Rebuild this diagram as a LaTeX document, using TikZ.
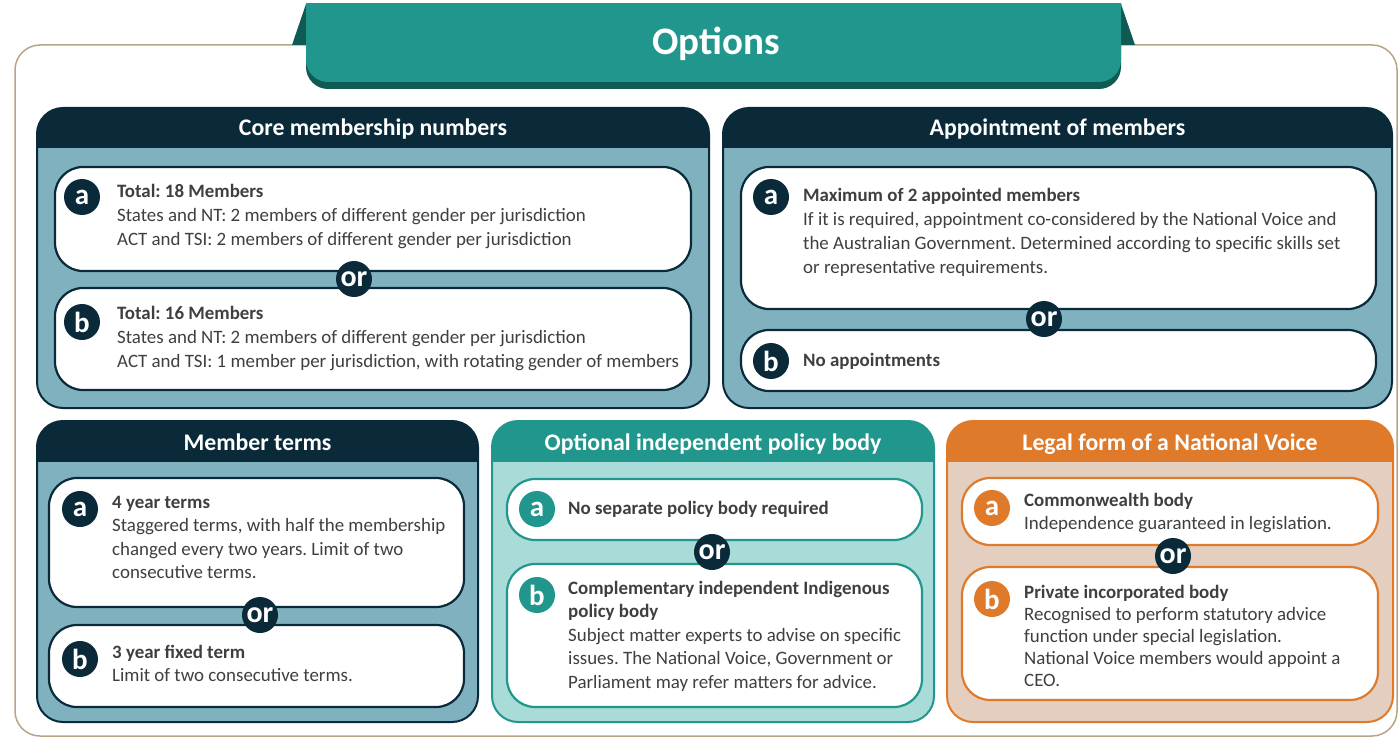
\documentclass[tikz,border=0pt]{standalone}
\usepackage{fontspec}
\setmainfont{Carlito}
\frenchspacing

\definecolor{blu}{HTML}{0A2A3A}
\definecolor{azzurro}{HTML}{80B1BF}
\definecolor{verde}{HTML}{21968D}
\definecolor{verdechiaro}{HTML}{A9DCD8}
\definecolor{verdescuro}{HTML}{0F5A52}
\definecolor{arancio}{HTML}{DF7A2B}
\definecolor{rosa}{HTML}{E3CEBF}
\definecolor{cornice}{HTML}{B8A487}
\definecolor{grigio}{HTML}{3F3F3F}

\tikzset{
	titolo/.style={anchor=base, text=white, font=\fontsize{23.8}{24}\selectfont\bfseries},
	casella/.style={fill=white, draw=#1, line width=2.2, rounded corners=28},
	lettera/.style={circle, fill=#1, text=white, minimum size=36, inner sep=0, font=\fontsize{29}{29}\selectfont\bfseries},
	oppure/.style={circle, fill=blu, text=white, minimum size=36, inner sep=0, font=\fontsize{30}{30}\selectfont\bfseries},
	testo/.style={anchor=north west, inner sep=0, align=left, text=grigio, font=\fontsize{18.9}{24}\selectfont}
}

% riga di appoggio per la prima linea
\newcommand{\st}{\rule{0pt}{14pt}}

% pannello: nome, x1, y1, x2, y2, fine testata, colore testata, colore corpo, titolo
\newcommand{\pannello}[9]{%
	\begin{scope}
		\clip[rounded corners=26] (#2,#3) rectangle (#4,#5);
		\fill[#8] (#2,#3) rectangle (#4,#5);
		\fill[#7] (#2,#3) rectangle (#4,#6);
	\end{scope}
	\draw[#7, line width=2, rounded corners=26] (#2,#3) rectangle (#4,#5);
	\node[titolo] (#1) at ({(#2+#4)/2},{#6-12}) {#9};
}

\begin{document}
\begin{tikzpicture}[x=1pt, y=-1pt]
	\useasboundingbox (0,0) rectangle (1399,738);

	% cornice
	\draw[cornice, line width=1.5, rounded corners=25] (15,45) rectangle (1397,736);

	% nastro
	\begin{scope}
		\clip (0,4) rectangle (1399,738);
		\fill[verdescuro] (292,45) -- (306,4) -- (1121,4) -- (1135,45) -- cycle;
		\fill[verdescuro, rounded corners=22] (306,-30) rectangle (1121,89);
		\fill[verde, rounded corners=22] (306,-30) rectangle (1121,82);
	\end{scope}
	\node[anchor=base, text=white, font=\fontsize{39}{39}\selectfont\bfseries] (opz) at (716,55) {Options};

	% pannelli
	\pannello{h1}{37}{108}{709}{408}{148}{blu}{azzurro}{Core membership numbers}
	\pannello{h2}{723}{108}{1392}{408}{148}{blu}{azzurro}{Appointment of members}
	\pannello{h3}{37}{421}{478}{722}{462}{blu}{azzurro}{Member terms}
	\pannello{h4}{492}{421}{934}{722}{462}{verde}{verdechiaro}{Optional independent policy body}
	\pannello{h5}{947}{421}{1393}{722}{462}{arancio}{rosa}{Legal form of a National Voice}

	% caselle
	\draw[casella=blu] (55,167) rectangle (691,271);
	\draw[casella=blu] (55,288) rectangle (691,390);
	\draw[casella=blu] (741,167) rectangle (1376,309);
	\draw[casella=blu] (741,330) rectangle (1376,391);
	\draw[casella=blu] (49,478) rectangle (464,607);
	\draw[casella=blu] (49,625) rectangle (464,707);
	\draw[casella=verde] (507,479) rectangle (922,540);
	\draw[casella=verde] (507,564) rectangle (922,707);
	\draw[casella=arancio] (962,478) rectangle (1378,545);
	\draw[casella=arancio] (962,567) rectangle (1378,700);

	% lettere
	\node[lettera=blu] (a1) at (82,197) {a};
	\node[lettera=blu] (b1) at (82,322) {b};
	\node[lettera=blu] (a2) at (771,197) {a};
	\node[lettera=blu] (b2) at (771,361) {b};
	\node[lettera=blu] (a3) at (80,509) {a};
	\node[lettera=blu] (b3) at (80,659) {b};
	\node[lettera=verde] (a4) at (537,509) {a};
	\node[lettera=verde] (b4) at (537,595) {b};
	\node[lettera=arancio] (a5) at (992,508) {a};
	\node[lettera=arancio] (b5) at (992,599) {b};

	% or
	\node[oppure] (o1) at (354,279) {or};
	\node[oppure] (o2) at (1044,319) {or};
	\node[oppure] (o3) at (260,615) {or};
	\node[oppure] (o4) at (712,552) {or};
	\node[oppure] (o5) at (1173,556) {or};

	% testi
	\node[testo] (t1a) at (117,183) {\st\textbf{Total: 18 Members}\\States and NT: 2 members of different gender per jurisdiction\\ACT and TSI: 2 members of different gender per jurisdiction};
	\node[testo] (t1b) at (117,305) {\st\textbf{Total: 16 Members}\\States and NT: 2 members of different gender per jurisdiction\\ACT and TSI: 1 member per jurisdiction, with rotating gender of members};
	\node[testo] (t2a) at (803,187) {\st\textbf{Maximum of 2 appointed members}\\If it is required, appointment co-considered by the National Voice and\\the Australian Government. Determined according to specific skills set\\or representative requirements.};
	\node[testo] (t2b) at (803,352) {\st\textbf{No appointments}};
	\node[testo, font=\fontsize{18.9}{23.5}\selectfont] (t3a) at (112,494) {\st\textbf{4 year terms}\\Staggered terms, with half the membership\\changed every two years. Limit of two\\consecutive terms.};
	\node[testo, font=\fontsize{18.9}{23.5}\selectfont] (t3b) at (112,644) {\st\textbf{3 year fixed term}\\Limit of two consecutive terms.};
	\node[testo] (t4a) at (568,500) {\st\textbf{No separate policy body required}};
	\node[testo, font=\fontsize{18.9}{23.5}\selectfont] (t4b) at (568,580) {\st\textbf{Complementary independent Indigenous}\\\textbf{policy body}\\Subject matter experts to advise on specific\\issues. The National Voice, Government or\\Parliament may refer matters for advice.};
	\node[testo, font=\fontsize{18.9}{23}\selectfont] (t5a) at (1024,492) {\st\textbf{Commonwealth body}\\Independence guaranteed in legislation.};
	\node[testo, font=\fontsize{18.9}{22}\selectfont] (t5b) at (1024,584) {\st\textbf{Private incorporated body}\\Recognised to perform statutory advice\\function under special legislation.\\National Voice members would appoint a\\CEO.};
\end{tikzpicture}
\end{document}
